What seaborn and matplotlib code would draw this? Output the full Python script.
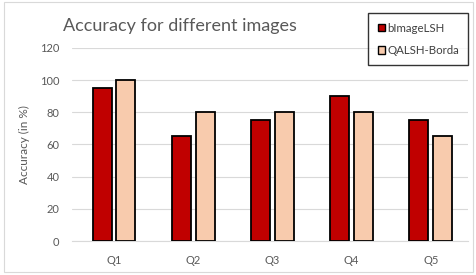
import pandas as pd
import seaborn as sns
import matplotlib.pyplot as plt
from matplotlib.patches import Rectangle, Patch

# data
queries = ["Q1", "Q2", "Q3", "Q4", "Q5"]
bimage_lsh = [95, 65, 75, 90, 75]
qalsh_borda = [100, 80, 80, 80, 65]
methods = ["bImageLSH", "QALSH-Borda"]
colors = ["#C00000", "#F8CBAD"]

df = pd.DataFrame({
    "Query": queries * 2,
    "Accuracy": bimage_lsh + qalsh_borda,
    "Method": [methods[0]] * len(queries) + [methods[1]] * len(queries),
})

sns.set_style("white")
plt.rcParams["font.family"] = ["Lato", "DejaVu Sans"]

fig = plt.figure(figsize=(4.77, 2.75), dpi=100)
ax = fig.add_axes([0.151, 0.1236, 0.830, 0.702])

sns.barplot(data=df, x="Query", y="Accuracy", hue="Method", palette=colors,
            saturation=1, width=0.6, gap=0.2, edgecolor="black", linewidth=1.3,
            legend=False, ax=ax, zorder=3)

ax.set_ylim(0, 120)
ax.set_yticks(range(0, 121, 20))
ax.set_xlim(-0.53, 4.47)
ax.grid(axis="y", color="#D9D9D9", linewidth=0.8, zorder=0)
ax.set_axisbelow(True)
for s in ["top", "right", "left"]:
    ax.spines[s].set_visible(False)
ax.spines["bottom"].set_color("#D9D9D9")
ax.tick_params(axis="both", length=0, colors="#595959", labelsize=8)
ax.tick_params(axis="x", pad=10)
ax.tick_params(axis="y", pad=9)
ax.set_xlabel("")
ax.set_ylabel("Accuracy (in %)", color="#595959", fontsize=8.5, labelpad=7)

fig.text(0.132, 0.905, "Accuracy for different images", fontsize=13,
         color="#595959", va="center")

handles = [Patch(facecolor=c, edgecolor="black", linewidth=1) for c in colors]
leg = fig.legend(handles, methods, loc="upper right",
                 bbox_to_anchor=(0.994, 0.972), fontsize=8.3, frameon=True,
                 fancybox=False, handlelength=0.6, handleheight=0.6,
                 handletextpad=0.25, labelspacing=1.0, borderpad=0.8)
leg.get_frame().set_edgecolor("black")
leg.get_frame().set_linewidth(1.0)
for t in leg.get_texts():
    t.set_color("#404040")

fig.patches.append(Rectangle((0.008, 0.01), 0.984, 0.982, transform=fig.transFigure,
                             fill=False, edgecolor="#D9D9D9", linewidth=0.8))

fig.savefig("out.png", dpi=100)
